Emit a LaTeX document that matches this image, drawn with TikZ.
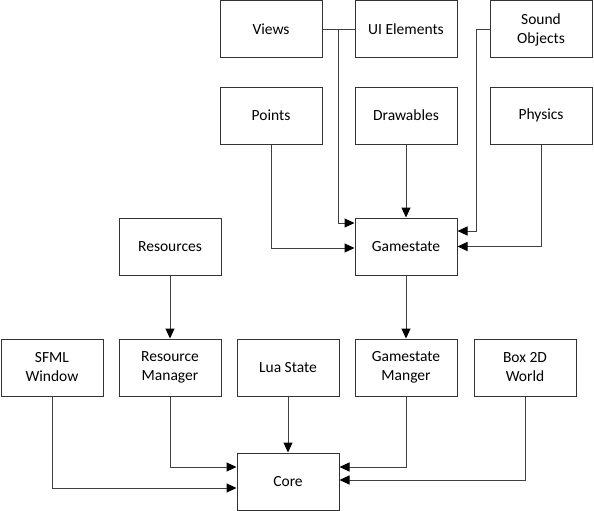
\documentclass[tikz,border=0pt]{standalone}
\usepackage{fontspec}
\setmainfont{Carlito}
\usetikzlibrary{calc,arrows.meta}

\begin{document}
\begin{tikzpicture}[x=1pt, y=-1pt, font=\fontsize{15.5}{19}\selectfont,
	block/.style={draw=black!80, line width=1pt, minimum width=102pt, minimum height=57pt, align=center, inner sep=2pt},
	link/.style={draw=black!75, line width=1pt},
	>={Triangle[length=10pt,width=9pt,color=black]}]

	\def \colA{52};
	\def \colB{170};
	\def \colC{288};
	\def \colD{406};
	\def \colE{525};

	\useasboundingbox (0,0) rectangle (594,511);

	% top rows
	\node[block] (views) at (271, 29.5) {Views};
	\node[block] (uielements) at (\colD, 29.5) {UI Elements};
	\node[block] (sound) at (541, 29.5) {Sound\\Objects};

	\node[block] (points) at (271, 115.5) {Points};
	\node[block] (drawables) at (\colD, 115.5) {Drawables};
	\node[block] (physics) at (541, 115.5) {Physics};

	% middle row
	\node[block] (resources) at (\colB, 246.5) {Resources};
	\node[block] (gamestate) at (\colD, 246.5) {Gamestate};

	% bottom rows
	\node[block] (sfml) at (\colA, 367.5) {SFML\\Window};
	\node[block] (resmanager) at (\colB, 367.5) {Resource\\Manager};
	\node[block] (luastate) at (\colC, 367.5) {Lua State};
	\node[block] (gsmanager) at (\colD, 367.5) {Gamestate\\Manger};
	\node[block] (box2d) at (\colE, 367.5) {Box 2D\\World};

	\node[block] (core) at (\colC, 481.5) {Core};

	% into gamestate
	\draw[link, ->] (views.east) -- ++(16,0) |- ([yshift=23.5pt]gamestate.west);
	\draw[link] (uielements.west) -- ++(-17,0);
	\draw[link, ->] (points.south) |- ([yshift=-1.5pt]gamestate.west);
	\draw[link, ->] (drawables) -- (gamestate);
	\draw[link, ->] (sound.west) -- ++(-13,0) |- ([yshift=15.5pt]gamestate.east);
	\draw[link, ->] (physics.south) |- (gamestate.east);

	\draw[link, ->] (resources) -- (resmanager);
	\draw[link, ->] (gamestate) -- (gsmanager);

	% into core
	\draw[link, ->] (sfml.south) |- ([yshift=-6.5pt]core.west);
	\draw[link, ->] (resmanager.south) |- ([yshift=14.5pt]core.west);
	\draw[link, ->] (luastate) -- (core);
	\draw[link, ->] (gsmanager.south) |- ([yshift=14.5pt]core.east);
	\draw[link, ->] (box2d.south) |- ([yshift=1.5pt]core.east);

\end{tikzpicture}
\end{document}
